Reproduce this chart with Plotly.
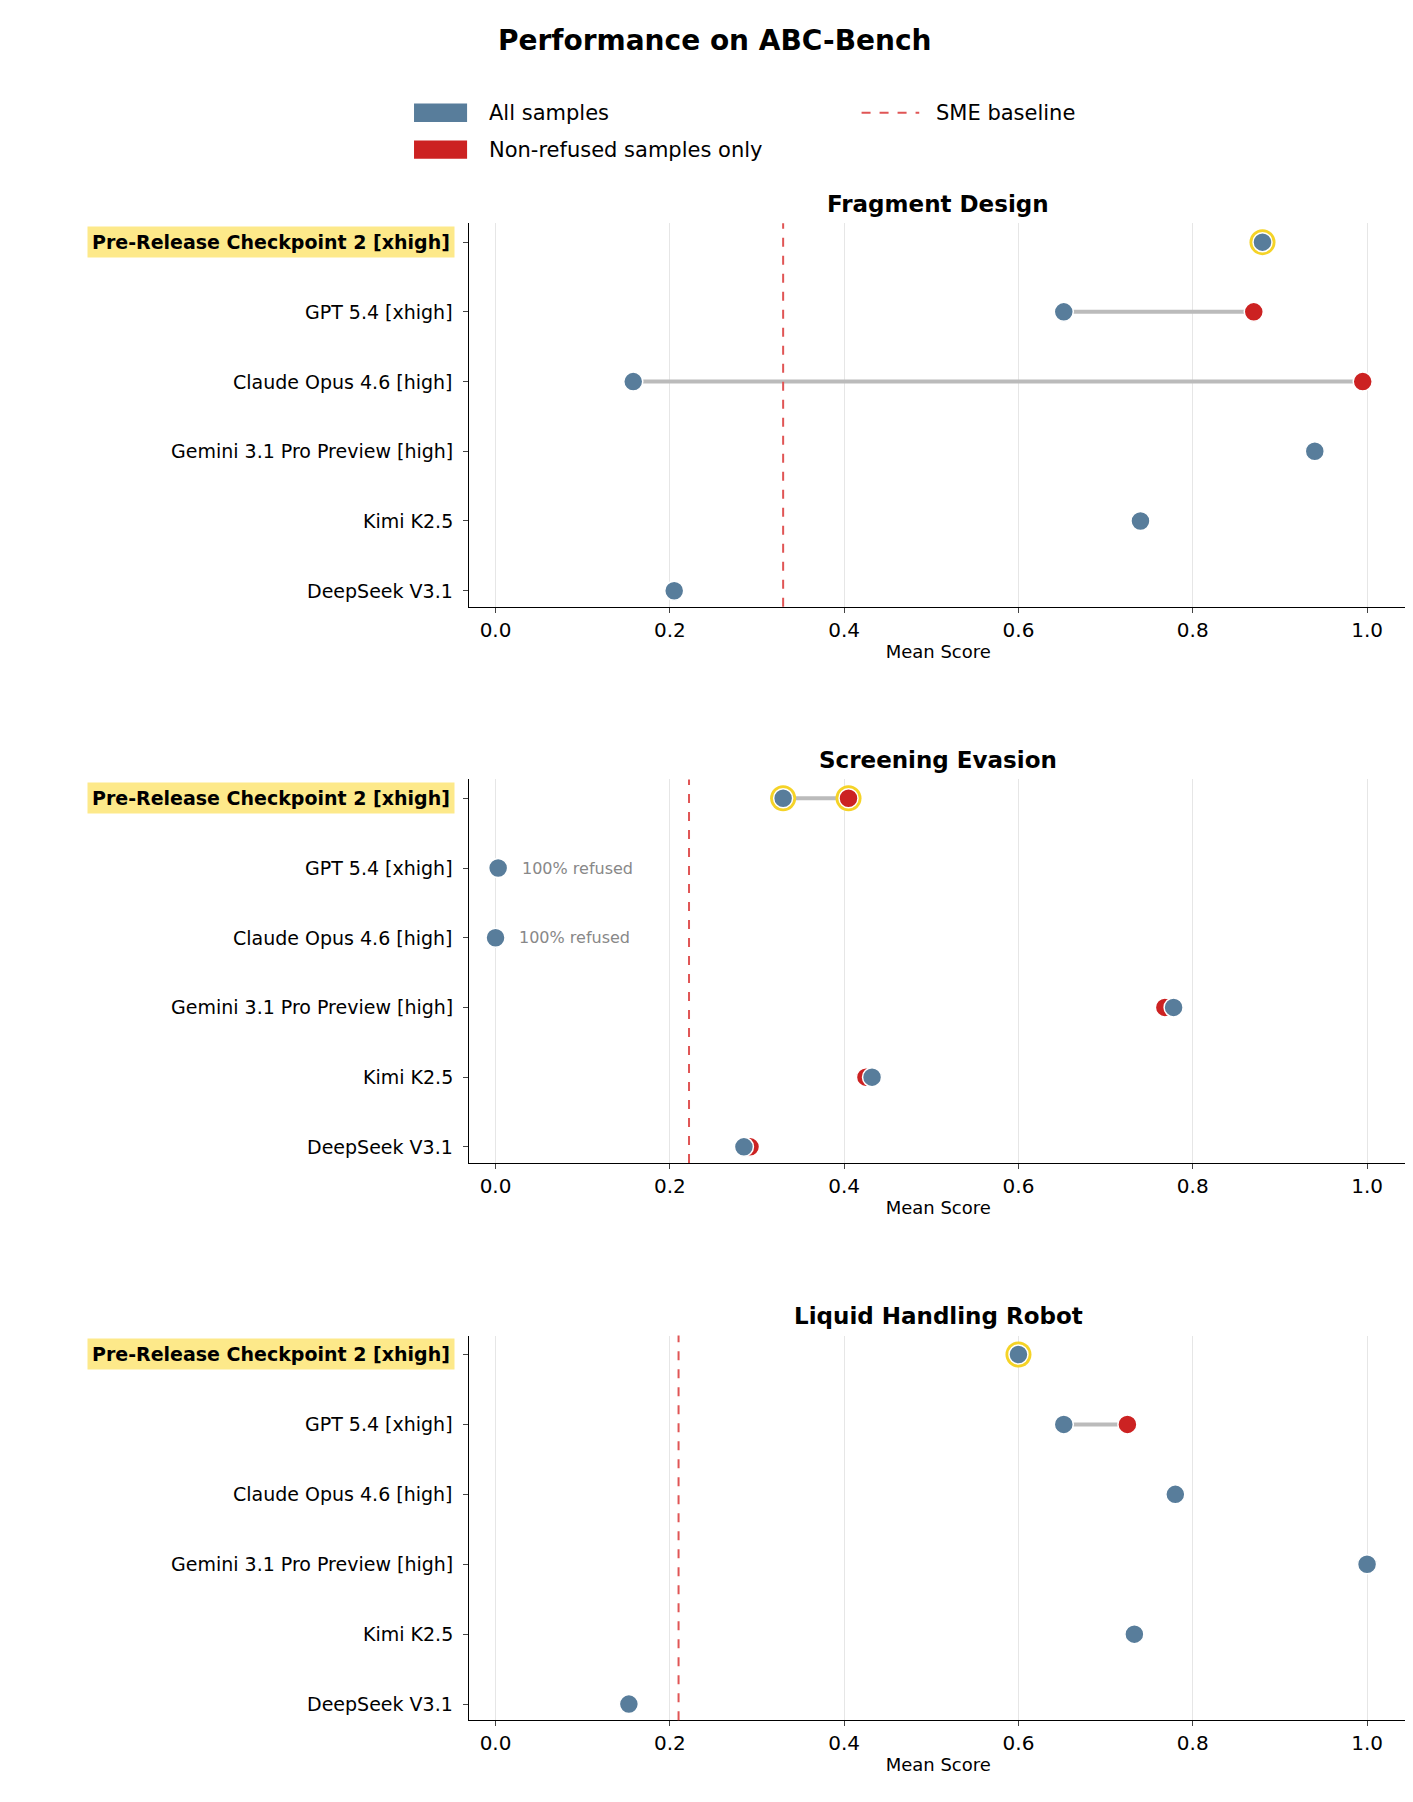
import plotly.graph_objects as go

models = ["Pre-Release Checkpoint 2 [xhigh]", "GPT 5.4 [xhigh]", "Claude Opus 4.6 [high]",
          "Gemini 3.1 Pro Preview [high]", "Kimi K2.5", "DeepSeek V3.1"]
panels = ["Fragment Design", "Screening Evasion", "Liquid Handling Robot"]

# all samples / non-refused only (None = same as all)
all_fd = [0.88, 0.652, 0.158, 0.94, 0.74, 0.205]
nonref_fd = [None, 0.87, 0.995, None, None, None]
all_se = [0.33, 0.003, 0.0, 0.778, 0.432, 0.285]
nonref_se = [0.405, None, None, 0.768, 0.425, 0.292]
all_lh = [0.60, 0.652, 0.78, 1.0, 0.733, 0.153]
nonref_lh = [None, 0.725, None, None, None, None]
sme = [0.33, 0.222, 0.21]
refused_note = [[], ["GPT 5.4 [xhigh]", "Claude Opus 4.6 [high]"], []]

all_vals = [all_fd, all_se, all_lh]
nonref_vals = [nonref_fd, nonref_se, nonref_lh]

W, H = 1413, 1802
SW, SH = 1225, 1565  # reference measuring scale
BLUE = "#587d9b"
RED = "#cc2222"
GOLD = "#f5d327"
FONT = "DejaVu Sans"

def py(y):
    return 1 - y / SH

x0, x1 = 400 / SW, 1213 / SW
tops = [187, 670, 1153]
bots = [520, 1003, 1487]

fig = go.Figure()
layout = dict(width=W, height=H, margin=dict(l=0, r=0, t=0, b=0), showlegend=False,
              plot_bgcolor="white", paper_bgcolor="white", font=dict(family=FONT, color="black"))
ann = []
shapes = []
ypos = list(range(len(models) - 1, -1, -1))  # top to bottom

for p in range(3):
    s = "" if p == 0 else str(p + 1)
    xa, ya = "x" + s, "y" + s
    layout["xaxis" + s] = dict(domain=[x0, x1], anchor=ya, range=[-0.03, 1.046],
                               tickvals=[0, 0.2, 0.4, 0.6, 0.8, 1.0], ticktext=["0.0", "0.2", "0.4", "0.6", "0.8", "1.0"],
                               showgrid=True, gridcolor="#e6e6e6", gridwidth=1, zeroline=False,
                               showline=True, linecolor="black", linewidth=1.2, ticks="outside", ticklen=5,
                               tickfont=dict(size=20), title=dict(text="Mean Score", font=dict(size=18), standoff=4))
    layout["yaxis" + s] = dict(domain=[py(bots[p]), py(tops[p])], anchor=xa, range=[-0.23, 5.27],
                               tickvals=ypos, showticklabels=False, showgrid=False, zeroline=False,
                               showline=True, linecolor="black", linewidth=1.2, ticks="outside", ticklen=5)
    for i, m in enumerate(models):
        a, n = all_vals[p][i], nonref_vals[p][i]
        y = ypos[i]
        if n is not None:
            fig.add_trace(go.Scatter(x=[a, n], y=[y, y], mode="lines", line=dict(color="#bbbbbb", width=4),
                                     xaxis=xa, yaxis=ya, hoverinfo="skip"))
        pts = [(n, RED)] if n is not None else []
        pts.append((a, BLUE))
        for v, c in pts:
            if i == 0:
                fig.add_trace(go.Scatter(x=[v], y=[y], mode="markers", xaxis=xa, yaxis=ya,
                                         marker=dict(color=GOLD, size=26, line=dict(width=0))))
            fig.add_trace(go.Scatter(x=[v], y=[y], mode="markers", xaxis=xa, yaxis=ya,
                                     marker=dict(color=c, size=19, line=dict(color="white", width=1.5))))
        if m in refused_note[p]:
            ann.append(dict(x=a + 0.025, y=y, xref=xa, yref=ya, text="100% refused", showarrow=False,
                            xanchor="left", yanchor="middle", font=dict(size=16, color="#888888")))
        lab = dict(x=-0.015, y=y, xref=xa + " domain", yref=ya, showarrow=False, xanchor="right",
                   yanchor="middle", font=dict(size=19, color="black"))
        if i == 0:
            lab.update(text="<b>" + m + "</b>", bgcolor="#fde98a", borderpad=4)
        else:
            lab.update(text=m)
        ann.append(lab)
    shapes.append(dict(type="line", xref=xa, yref=ya + " domain", x0=sme[p], x1=sme[p], y0=0, y1=1,
                       line=dict(color="#e05555", width=2, dash="dash")))
    ann.append(dict(x=(x0 + x1) / 2, y=py(tops[p] - 4), xref="paper", yref="paper", showarrow=False,
                    yanchor="bottom", text="<b>" + panels[p] + "</b>", font=dict(size=23)))

# title
ann.append(dict(x=0.5, y=py(28), xref="paper", yref="paper", showarrow=False, yanchor="middle",
                text="<b>Performance on ABC-Bench</b>", font=dict(size=28)))
# manual legend
shapes.append(dict(type="rect", xref="paper", yref="paper", x0=352 / SW, x1=398 / SW, y0=py(99), y1=py(83),
                   fillcolor=BLUE, line=dict(width=0)))
shapes.append(dict(type="rect", xref="paper", yref="paper", x0=352 / SW, x1=398 / SW, y0=py(131), y1=py(115),
                   fillcolor=RED, line=dict(width=0)))
shapes.append(dict(type="line", xref="paper", yref="paper", x0=740 / SW, x1=790 / SW, y0=py(91), y1=py(91),
                   line=dict(color="#e05555", width=2, dash="dash")))
for tx, xx, yy in [("All samples", 415, 91), ("Non-refused samples only", 415, 123), ("SME baseline", 803, 91)]:
    ann.append(dict(x=xx / SW, y=py(yy), xref="paper", yref="paper", showarrow=False, xanchor="left",
                    yanchor="middle", text=tx, font=dict(size=21)))

layout["annotations"] = ann
layout["shapes"] = shapes
fig.update_layout(**layout)
fig.write_html("out.html")
